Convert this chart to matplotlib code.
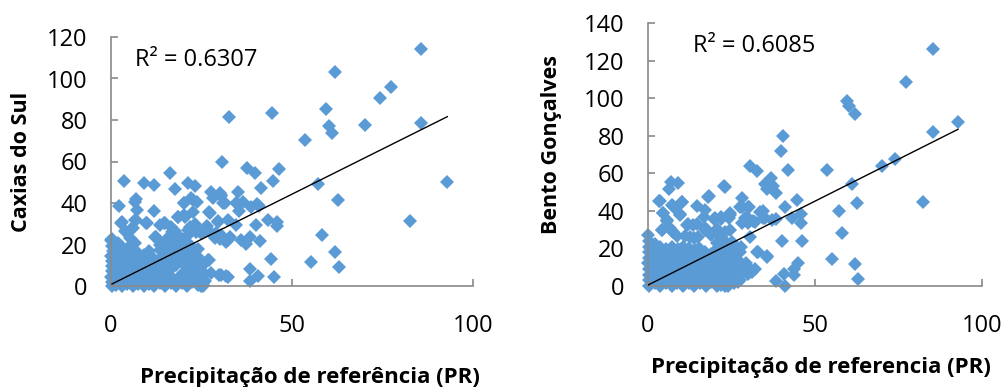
import numpy as np
import matplotlib
matplotlib.use('Agg')
import matplotlib.pyplot as plt

plt.rcParams['font.family'] = ['Open Sans', 'DejaVu Sans']

# ---- data ----
# Caxias do Sul vs reference precipitation (left panel)
caxias_sparse = [
    (85.6,114),(61.8,103),(77.3,95.9),(74.2,90.8),(59.5,85.5),(44.5,83.2),(32.6,81.3),
    (85.5,78.6),(70.2,77.8),(60.2,77.3),(61.1,73.6),(53.6,70.2),(30.6,59.6),(37.5,56.7),
    (46.3,56.5),(39.9,54.6),(16.2,54.3),(3.6,50.8),(9.1,49.5),(11.8,48.8),(21.3,49.8),
    (23.1,48.2),(44.7,50.6),(92.9,50.1),(57.3,49.0),(17.8,46.6),(41.4,47.1),(22.2,42.2),
    (23.8,40.6),(28.2,42.4),(30.0,44.7),(30.5,43.4),(31.5,39.8),(35.2,45.1),(34.9,39.8),
    (36.5,40.3),(40.3,39.7),(41.0,38.7),(62.6,41.4),(20.2,40.2),(6.8,41.8),(6.6,40.6),
    (2.3,38.4),(7.1,36.6),(11.8,36.3),(22.7,35.7),(27.2,35.7),(35.3,36.1),(38.6,38.2),
    (18.6,33.1),(20.5,33.4),(6.6,31.8),(3.0,31.0),(29.6,31.5),(43.3,31.8),(45.9,31.0),
    (45.9,28.9),(82.6,31.2),(9.9,30.4),(13.6,29.2),(14.6,30.5),(34.5,29.2),(40.0,29.2),
    (23.3,29.7),(26.5,29.1),(5.9,28.1),(3.8,26.3),(16.8,26.0),(17.7,26.7),(21.3,27.0),
    (23.6,26.0),(24.8,25.4),(26.0,26.7),(29.0,25.4),(30.0,22.5),(31.9,21.2),(33.0,23.5),
    (35.8,22.2),(37.2,20.1),(38.3,23.5),(41.2,21.7),(58.2,24.4),(12.1,23.5),(0.2,21.7),
    (6.2,20.9),(27.0,12.4),(62.0,16.4),(44.2,12.9),(55.3,11.4),(63.1,9.0),(38.5,8.4),
    (29.7,5.5),(31.8,4.8),(40.7,4.7),(45.0,4.3),(38.5,2.6),(25.4,0.0),(19.7,5.3),(25.9,2.6),
    (2.8,30.4),(6.9,31.8),(9.7,30.4),(14.9,30.4),(4.1,26.0),(6.1,28.0),(5.2,23.0),
    (12.4,23.6),(6.6,20.7),(0.0,22.0),(16.6,28.6),(17.6,25.5),(16.2,20.7),(19.3,15.9),
    (21.3,12.5),(24.0,14.1),(26.8,12.5),(24.9,7.7),(22.6,6.3),(27.7,6.3),(30.4,5.3),
    (32.3,4.5),(19.9,4.5),(24.9,0.0),(21.7,28.6),(24.0,27.0),(26.2,28.6),(27.3,26.2),
    (30.4,24.6),(32.3,22.2),(28.6,23.1),(18.5,33.3),(20.3,34.2),(27.3,35.3),(32.3,31.8),
    (29.6,31.0),(20.3,40.0),(22.6,41.4),(27.6,45.5),(30.4,43.8),(30.9,40.0),(34.5,40.0),
]
caxias_dense = [
    (0.2,0),(0.3,2),(0.1,4.5),(0.4,7),(0.2,9.5),(0.3,12),(0.1,14.5),(0.5,17),(0.2,19.5),(0.3,22.5),
    (1.5,0.5),(1.6,3),(1.4,5.5),(1.7,8),(1.5,10.5),(1.3,13),(1.6,15.5),(1.5,18),(1.8,20.5),
    (3.0,0),(3.1,2.5),(2.9,5),(3.2,7.5),(3.0,10),(2.8,12.5),(3.1,15),(3.3,17.5),(2.9,19.5),
    (4.5,1),(4.4,3.5),(4.7,6),(4.5,8.5),(4.3,11),(4.6,13.5),(4.5,16),(4.8,18.5),
    (6.0,0),(6.1,2.5),(5.9,5),(6.2,7.5),(6.0,10),(5.8,12.5),(6.1,15),(6.3,17),
    (7.5,1),(7.4,3.5),(7.7,6),(7.5,8.5),(7.3,11),(7.6,13.5),(7.5,16),
    (9.0,0),(9.1,2.5),(8.9,5),(9.2,7.5),(9.0,10),(8.8,12.5),(9.1,15),
    (10.5,1),(10.4,3.5),(10.7,6),(10.5,8.5),(10.3,11),(10.6,14),(10.4,17),
    (12.0,0),(12.1,2.5),(11.9,5),(12.2,8),(12.0,11),(11.8,13),
    (13.5,1.5),(13.4,4),(13.7,7),(13.5,10),(13.3,12.5),(13.6,17.5),(13.4,20),
    (15.0,0),(15.1,3),(14.9,6),(15.2,9),(15.0,14),(14.8,19),(15.1,22),
    (16.5,1.5),(16.4,5),(16.7,8),(16.5,11.5),(16.3,16),(16.6,20.5),(16.4,24),
    (18.0,0),(18.1,3),(17.9,10),(18.2,13),(18.0,18),(17.8,21),
    (19.5,1.5),(19.6,6),(19.4,12),(19.7,15),(19.5,19.5),(19.3,23),
    (21.0,0),(21.1,4),(20.9,9),(21.2,14),(21.0,17),(20.8,21.5),(21.1,24),
    (22.5,2),(22.6,7),(22.4,11),(22.7,16),(22.5,19),
    (24.0,0.5),(24.1,4),(23.9,8),(24.2,13),(24.0,18),
    (25.5,1),(25.6,6),(25.4,10),
]
caxias_trend_x = [0.3, 92.9]
caxias_trend_y = [1.0, 81.6]
caxias_r2 = 0.6307

# Bento Gonçalves vs reference precipitation (right panel)
bento_sparse = [
    (85.3,126),(77.1,108.7),(59.5,98.6),(60.1,95.8),(61.9,91.7),(92.8,87.3),(85.2,81.8),
    (40.4,80),(39.7,72),(74.0,67.8),(70.1,63.9),(30.5,64),(32.5,61.4),(41.9,61.6),
    (53.6,61.6),(61.2,54.1),(22.9,53),(7.0,55.5),(9.1,54.6),(6.3,51.8),(35.1,54.3),
    (36.8,57.3),(37.4,53.2),(38.2,49.3),(35.5,51.8),(18.4,47.9),(3.5,45.1),(10.2,44.7),
    (14.6,42.8),(28.2,41.9),(30.2,41.9),(41.0,42.2),(44.6,45.6),(82.4,44.5),(62.5,44.3),
    (4.6,38.9),(9.7,38.1),(17.0,40.6),(7.6,42.6),(5.6,34.4),(11.9,33),(14.6,33),
    (16.8,36.9),(19.8,35.7),(21.9,35.7),(24.3,36),(24.7,38.7),(28.0,33.4),(29.7,36.9),
    (31.5,34.6),(34.3,39.7),(35.0,36),(38.3,35.5),(43.2,36),(45.8,38.1),(45.8,33.4),
    (57.2,39.7),(4.3,29.8),(7.2,29.3),(8.7,26.8),(11.2,26.8),(13.9,25.5),(17.6,29.8),
    (20.6,30.2),(24.6,29.8),(30.5,25.9),(58.0,28.2),(0.0,27.1),(40.0,24.1),(46.1,23.8),
    (21.4,20.9),(26.5,19.5),(32.8,17.9),(35.6,15.8),(55.1,14.2),(44.8,12.1),(62.0,11.5),
    (43.8,9.0),(31.9,8.9),(30.0,6.6),(43.8,5.9),(40.6,6.6),(38.2,2.8),(63.0,3.5),
    (41.0,0.0),(23.2,0.0),
    (7.3,43),(8.1,41.5),(10.2,44.7),(4.5,39),(9.6,37.8),(5.7,35),(4.2,30),(6.6,31),
    (7.5,29),(11.7,32.5),(13.5,32.5),(15.0,26),(17.0,30),(12.6,26),(10.5,21),(9.0,19),
    (3.3,45),(23.0,52.8),(18.0,47.5),(28.0,46.7),(27.5,42.2),(30.0,42.2),(33.5,39.5),
    (20.0,36),(22.0,36.9),(24.6,37.8),(29.0,36),(30.0,33.4),(32.0,34.2),(34.4,36.2),
    (37.0,35),(17.0,30.7),(19.0,27),(21.0,28),(23.0,29),(25.0,23.6),(22.0,22.7),(24.0,19),
    (27.5,18),(27.0,13.8),(32.5,17.9),(35.5,15.6),(18.0,5.9),(20.0,7.6),(23.0,5.9),
    (26.0,8.5),(30.0,10.3),(31.0,7.6),(27.0,2.3),(22.0,0.5),
]
bento_dense = [
    (0.3,0),(0.2,3),(0.4,6),(0.3,9),(0.1,12),(0.3,15),(0.2,18),(0.4,21),(0.3,24),
    (2.0,1.5),(2.1,4.5),(1.9,7.5),(2.2,10.5),(2.0,13.5),(1.8,16.5),(2.1,19.5),(2.0,22.5),
    (3.7,0),(3.8,3),(3.6,6),(3.9,9),(3.7,12),(3.5,15),(3.8,18),(3.7,21),
    (5.4,1.5),(5.5,4.5),(5.3,7.5),(5.6,10.5),(5.4,13.5),(5.2,16.5),(5.5,19.5),
    (7.1,0),(7.2,3),(7.0,6),(7.3,9),(7.1,12),(6.9,15),(7.2,18),(7.1,21),
    (8.8,1.5),(8.9,4.5),(8.7,7.5),(9.0,10.5),(8.8,13.5),(8.6,16.5),(8.9,19.5),
    (10.5,0),(10.6,3),(10.4,6),(10.7,9),(10.5,12),(10.3,15),(10.6,18),
    (12.2,1.5),(12.3,4.5),(12.1,7.5),(12.4,10.5),(12.2,14),(12.0,17.5),(12.3,20),
    (13.9,0),(14.0,3),(13.8,6),(14.1,9),(13.9,13),(13.7,16),(14.0,19),
    (15.6,1.5),(15.7,5),(15.5,8.5),(15.8,11),(15.6,15),(15.4,20),
    (17.3,0),(17.4,3.5),(17.2,7),(17.5,10),(17.3,14),(17.1,18),
    (19.0,2),(19.1,5.5),(18.9,9),(19.2,12.5),(19.0,17),
    (20.7,0),(20.8,4),(20.6,8),(20.9,11),(20.7,15),(20.5,19),(20.8,23),
    (22.4,2),(22.5,6),(22.3,10),(22.6,13),(22.4,17),(22.2,21),(22.5,25),
    (24.1,0),(24.2,3.5),(24.0,8),(24.3,12),(24.1,16),(23.9,22),
    (25.8,1.5),(25.9,5.5),(25.7,10),(26.0,14),(25.8,18),
    (27.5,3),(27.6,7),(27.4,11),(27.7,21),
    (29.0,8),(29.2,12),
]
bento_trend_x = [0.0, 92.8]
bento_trend_y = [0.5, 83.4]
bento_r2 = 0.6085

x_ticks = [0, 50, 100]
caxias_yticks = [0, 20, 40, 60, 80, 100, 120]
bento_yticks = [0, 20, 40, 60, 80, 100, 120, 140]

blue = '#5b9bd5'
gray = '#898989'

fig = plt.figure(figsize=(10.03, 3.87), dpi=100)
W, H = 1003.0, 387.0

def make_panel(rect, sparse, dense, tx, ty, r2, yticks, r2_pos):
    ax = fig.add_axes(rect)
    pts = np.array(dense + sparse)
    ax.plot(pts[:, 0], pts[:, 1], linestyle='none', marker='D', markersize=7.0,
            color=blue, markeredgewidth=0, clip_on=False, zorder=2)
    ax.plot(tx, ty, color='black', linewidth=1.0, zorder=3)
    ax.set_xlim(0, 100)
    ax.set_ylim(yticks[0], yticks[-1])
    ax.set_xticks(x_ticks)
    ax.set_yticks(yticks)
    for s in ['top', 'right']:
        ax.spines[s].set_visible(False)
    for s in ['left', 'bottom']:
        ax.spines[s].set_color(gray)
        ax.spines[s].set_linewidth(1.2)
    ax.tick_params(axis='both', direction='in', length=5, width=1.2, color=gray,
                   labelsize=17, labelcolor='black')
    ax.tick_params(axis='y', pad=17)
    ax.tick_params(axis='x', pad=20)
    ax.text(r2_pos[0], r2_pos[1], 'R² = {:.4f}'.format(r2), transform=ax.transAxes,
            fontsize=17, va='baseline', ha='left')
    return ax

ax1 = make_panel([111 / W, 1 - 286 / H, 362 / W, 249 / H], caxias_sparse, caxias_dense,
                 caxias_trend_x, caxias_trend_y, caxias_r2, caxias_yticks, (0.066, 0.884))
ax2 = make_panel([648 / W, 1 - 286 / H, 334 / W, 263 / H], bento_sparse, bento_dense,
                 bento_trend_x, bento_trend_y, bento_r2, bento_yticks, (0.135, 0.89))

fig.text(22 / W, 1 - 162 / H, 'Caxias do Sul', rotation=90, ha='center', va='center',
         fontsize=15.5, fontweight='bold')
fig.text(552 / W, 1 - 144 / H, 'Bento Gonçalves', rotation=90, ha='center', va='center',
         fontsize=15.5, fontweight='bold')
fig.text(309.5 / W, 1 - 383 / H, 'Precipitação de referência (PR)', ha='center',
         va='baseline', fontsize=16, fontweight='bold')
fig.text(820.5 / W, 1 - 373 / H, 'Precipitação de referencia (PR)', ha='center',
         va='baseline', fontsize=16, fontweight='bold')

fig.savefig('out.png', dpi=100)
